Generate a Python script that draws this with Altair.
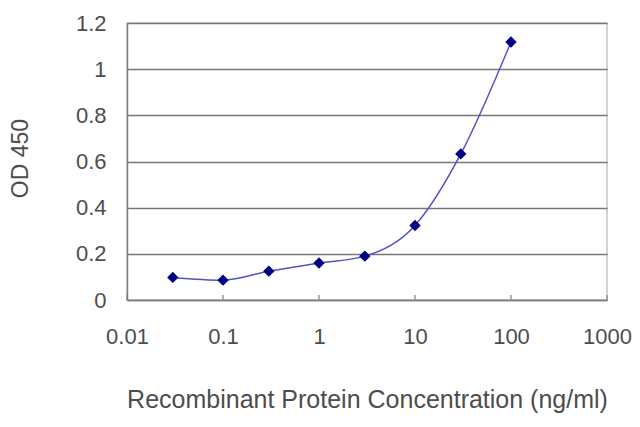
"""ELISA standard curve: OD 450 vs recombinant protein concentration."""

import altair as alt
import pandas as pd

# concentrations (ng/ml) and measured OD 450
conc = [0.03, 0.1, 0.3, 1, 3, 10, 30, 100]
od450 = [0.098, 0.086, 0.125, 0.160, 0.190, 0.323, 0.633, 1.118]

x_ticks = [0.01, 0.1, 1, 10, 100, 1000]
y_ticks = [0, 0.2, 0.4, 0.6, 0.8, 1.0, 1.2]

_FONT = "Liberation Sans"
_TEXT = "#4d4d4d"
_GRID = "#777777"

df = pd.DataFrame({"conc": conc, "od": od450})
ticks_df = pd.DataFrame({"tick": x_ticks})

x_scale = alt.Scale(type="log", domain=[0.01, 1000], nice=False)
y_scale = alt.Scale(domain=[0, 1.2], nice=False)

x_axis = alt.Axis(
    values=x_ticks,
    labelExpr="datum.value >= 1 ? format(datum.value, 'd') : format(datum.value, '~g')",
    grid=False,
    ticks=False,
    domainColor="#808080",
    domainWidth=1.5,
    labelFont=_FONT,
    labelFontSize=22,
    labelColor=_TEXT,
    labelPadding=26,
    labelFlush=False,
    title="Recombinant Protein Concentration (ng/ml)",
    titleFont=_FONT,
    titleFontSize=25,
    titleFontWeight="normal",
    titleColor=_TEXT,
    titleY=99,
    titleBaseline="middle",
)

y_axis = alt.Axis(
    values=y_ticks,
    format="~g",
    grid=True,
    gridColor=_GRID,
    gridWidth=1.6,
    ticks=False,
    domainColor="#808080",
    domainWidth=1.5,
    labelFont=_FONT,
    labelFontSize=22,
    labelColor=_TEXT,
    labelPadding=21,
    labelFlush=False,
    title="OD 450",
    titleFont=_FONT,
    titleFontSize=23,
    titleFontWeight="normal",
    titleColor=_TEXT,
    titleAngle=-90,
    titleX=-107,
    titleY=135,
    titleAlign="center",
    titleBaseline="middle",
)

base = alt.Chart(df).encode(
    x=alt.X("conc:Q", scale=x_scale, axis=x_axis),
    y=alt.Y("od:Q", scale=y_scale, axis=y_axis),
)

curve = base.mark_line(interpolate="monotone", color="#5252c4", strokeWidth=1.5)
points = base.mark_point(shape="diamond", filled=True, size=130, color="#000080", opacity=1)

ticks = (
    alt.Chart(ticks_df)
    .mark_rule(color="#808080", strokeWidth=1.2)
    .encode(
        x=alt.X("tick:Q", scale=x_scale),
        y=alt.value(277),
        y2=alt.value(272),
    )
)

chart = (
    alt.layer(ticks, curve, points)
    .properties(
        width=480,
        height=277,
        autosize=alt.AutoSizeParams(type="none"),
        padding={"left": 119, "top": 15, "right": 25, "bottom": 119},
    )
    .configure_view(stroke="#c4c4c4", strokeWidth=1.5)
)

chart.save("out.html", embed_options={"renderer": "svg", "actions": False})
